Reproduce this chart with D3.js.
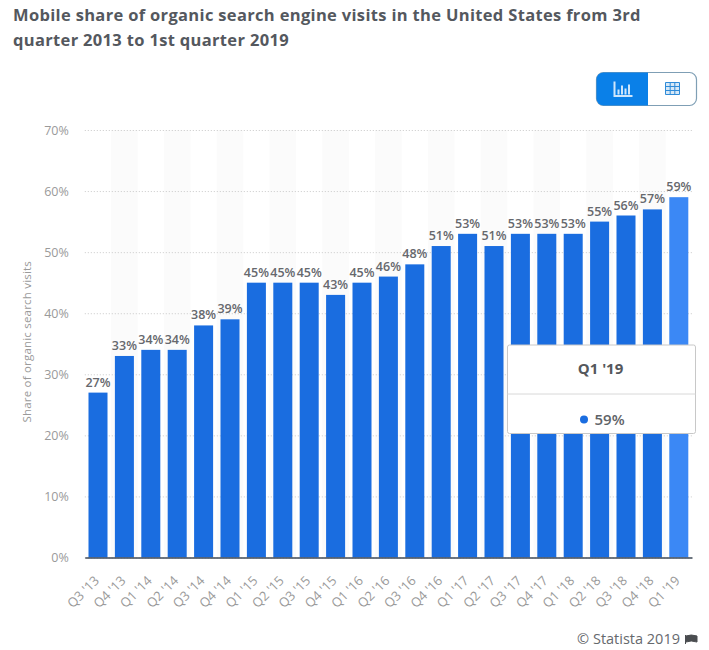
<!DOCTYPE html>
<html>
<head>
<meta charset="utf-8">
<script src="https://cdn.jsdelivr.net/npm/d3@7"></script>
<style>
  html, body { margin: 0; padding: 0; background: #fff; }
  svg { display: block; font-family: "Open Sans", sans-serif; }
</style>
</head>
<body>
<div id="chart"></div>
<script>
const categories = ["Q3 '13", "Q4 '13", "Q1 '14", "Q2 '14", "Q3 '14", "Q4 '14", "Q1 '15", "Q2 '15",
  "Q3 '15", "Q4 '15", "Q1 '16", "Q2 '16", "Q3 '16", "Q4 '16", "Q1 '17", "Q2 '17", "Q3 '17",
  "Q4 '17", "Q1 '18", "Q2 '18", "Q3 '18", "Q4 '18", "Q1 '19"];
const values = [27, 33, 34, 34, 38, 39, 45, 45, 45, 43, 45, 46, 48, 51, 53, 51, 53, 53, 53, 55, 56, 57, 59];
const yTicks = [0, 10, 20, 30, 40, 50, 60, 70];
const titleLines = [
  'Mobile share of organic search engine visits in the United States from 3rd',
  'quarter 2013 to 1st quarter 2019',
];
const highlighted = "Q1 '19";

const width = 709;
const height = 650;
const margin = { left: 84.8, right: 17, top: 130, bottom: 92.5 };

const svg = d3.select('#chart').append('svg')
  .attr('width', width)
  .attr('height', height);

const x = d3.scaleBand()
  .domain(categories)
  .range([margin.left, width - margin.right])
  .paddingInner(0.28)
  .paddingOuter(0.14);
const y = d3.scaleLinear()
  .domain([0, 70])
  .range([height - margin.bottom, margin.top]);

// title
svg.append('g').selectAll('text')
  .data(titleLines)
  .enter().append('text')
  .attr('x', 13)
  .attr('y', (d, i) => 21 + i * 25)
  .attr('font-size', 16.5)
  .attr('font-weight', 700)
  .attr('letter-spacing', 0.33)
  .attr('fill', '#54585e')
  .text((d) => d);

// alternating stripes behind the bars
const step = x.step();
svg.append('g').selectAll('rect')
  .data(categories.filter((d, i) => i % 2 === 1))
  .enter().append('rect')
  .attr('x', (d) => x(d) + x.bandwidth() / 2 - step / 2)
  .attr('y', y(70))
  .attr('width', step)
  .attr('height', y(0) - y(70))
  .attr('fill', '#fbfbfb');

// y axis with dotted grid
const yAxis = svg.append('g')
  .attr('transform', `translate(${margin.left},0)`)
  .call(d3.axisLeft(y).tickValues(yTicks).tickFormat((d) => `${d}%`)
    .tickSize(-(width - margin.left - margin.right)).tickPadding(16));
yAxis.select('.domain').remove();
yAxis.selectAll('.tick line')
  .attr('stroke', '#c9c9c9')
  .attr('stroke-dasharray', '1,2');
yAxis.selectAll('.tick text')
  .attr('fill', '#9a9a9a')
  .attr('font-family', '"Open Sans", sans-serif')
  .attr('font-size', 12.5);

svg.append('text')
  .attr('transform', `translate(31,${(y(0) + y(70)) / 2 - 2}) rotate(-90)`)
  .attr('text-anchor', 'middle')
  .attr('font-size', 11.5)
  .attr('letter-spacing', 0.2)
  .attr('fill', '#9a9a9a')
  .text('Share of organic search visits');

// bars
svg.append('g').selectAll('rect')
  .data(values)
  .enter().append('rect')
  .attr('x', (d, i) => x(categories[i]))
  .attr('y', (d) => y(d))
  .attr('width', x.bandwidth())
  .attr('height', (d) => y(0) - y(d))
  .attr('fill', (d, i) => (categories[i] === highlighted ? '#3b88f5' : '#1a6de0'));

// value labels
svg.append('g').selectAll('text')
  .data(values)
  .enter().append('text')
  .attr('x', (d, i) => x(categories[i]) + x.bandwidth() / 2)
  .attr('y', (d) => y(d) - 6)
  .attr('text-anchor', 'middle')
  .attr('font-size', 12.5)
  .attr('font-weight', 600)
  .attr('fill', '#66686d')
  .text((d) => `${d}%`);

// x axis
const xAxis = svg.append('g')
  .attr('transform', `translate(0,${y(0)})`)
  .call(d3.axisBottom(x).tickSize(0));
xAxis.select('.domain')
  .attr('stroke', '#3f4a57')
  .attr('stroke-width', 1.5);
xAxis.selectAll('.tick text')
  .attr('fill', '#9a9a9a')
  .attr('font-family', '"Open Sans", sans-serif')
  .attr('font-size', 13)
  .attr('text-anchor', 'end')
  .attr('dy', 0)
  .attr('y', 0)
  .attr('transform', 'translate(2,24) rotate(-45)');

// tooltip box
const tip = svg.append('g').attr('transform', 'translate(507.5,345)');
tip.append('rect')
  .attr('width', 188)
  .attr('height', 88.5)
  .attr('rx', 2)
  .attr('fill', '#fff')
  .attr('stroke', '#c8c8c8');
tip.append('line')
  .attr('x1', 0).attr('x2', 188)
  .attr('y1', 49).attr('y2', 49)
  .attr('stroke', '#d8d8d8');
tip.append('text')
  .attr('x', 93).attr('y', 28.5)
  .attr('text-anchor', 'middle')
  .attr('font-size', 15)
  .attr('font-weight', 700)
  .attr('fill', '#55585c')
  .text(highlighted);
tip.append('circle')
  .attr('cx', 76.5).attr('cy', 74.5).attr('r', 4)
  .attr('fill', '#1a6de0');
tip.append('text')
  .attr('x', 87).attr('y', 80)
  .attr('font-size', 15)
  .attr('font-weight', 600)
  .attr('fill', '#606368')
  .text(`${values[values.length - 1]}%`);

// chart / table toggle
const toggle = svg.append('g').attr('transform', 'translate(596.5,72.5)');
toggle.append('rect')
  .attr('width', 100).attr('height', 33).attr('rx', 7)
  .attr('fill', '#fff').attr('stroke', '#7f9fb5').attr('stroke-width', 1.2);
toggle.append('path')
  .attr('d', 'M7,0H51.5V33H7A7,7 0 0 1 0,26V7A7,7 0 0 1 7,0Z')
  .attr('fill', '#0a80e8');
toggle.append('path')
  .attr('d', 'M18,9V23.5H36 M22,22V17 M25.5,22V13 M29,22V16 M32.5,22V12')
  .attr('fill', 'none').attr('stroke', '#cfe6fb').attr('stroke-width', 2);
toggle.append('path')
  .attr('d', 'M69,10H83V22H69Z M69,14H83 M69,18H83 M73.7,10V22 M78.3,10V22')
  .attr('fill', '#d6e8f7').attr('stroke', '#2f8bd8').attr('stroke-width', 1);

// source
svg.append('text')
  .attr('x', 680).attr('y', 644)
  .attr('text-anchor', 'end')
  .attr('font-size', 14.5)
  .attr('fill', '#66696d')
  .text('© Statista 2019');
svg.append('path')
  .attr('d', 'M685.5,635V644 M686,636Q691,634 697,636V642Q691,640 686,642Z')
  .attr('fill', '#4a4d50').attr('stroke', '#4a4d50').attr('stroke-width', 1);
</script>
</body>
</html>
